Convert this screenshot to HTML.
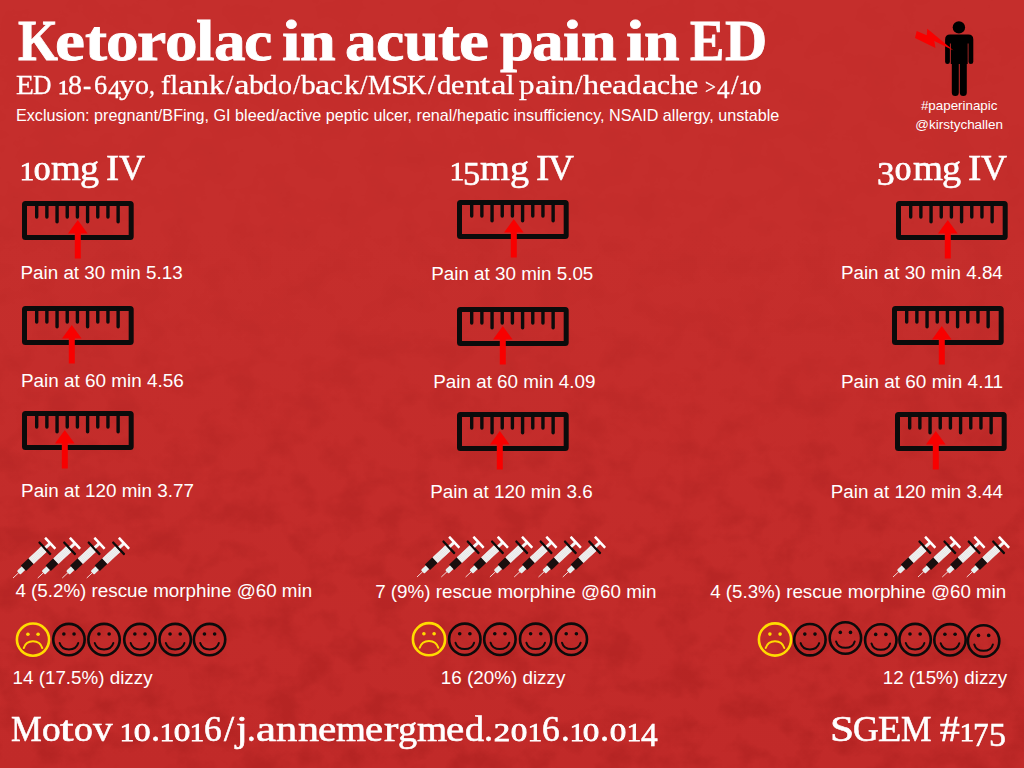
<!DOCTYPE html>
<html lang="en"><head><meta charset="utf-8"><title>Ketorolac in acute pain in ED</title>
<style>
html,body{margin:0;padding:0;}
body{width:1024px;height:768px;overflow:hidden;background:linear-gradient(#c52e2c 0%,#c52e2c 30%,#c12a29 100%);position:relative;font-family:"Liberation Sans",sans-serif;color:#fff;}
.abs{position:absolute;white-space:nowrap;line-height:1;margin:0;}
svg.abs{overflow:visible;display:block;}
.serif{font-family:"Liberation Serif",serif;}
.sans{font-family:"Liberation Sans",sans-serif;}
.o{display:inline-block;font-size:.72em;transform:scaleX(1.2);margin:0 .05em;-webkit-text-stroke:.75px #fff}
.d{font-size:.96em;position:relative;top:.16em}
.g{font-size:.8em}
.w{display:inline-block;transform-origin:0 0}
</style></head><body>
<svg class="abs" style="left:0;top:0" width="1024" height="768" viewBox="0 0 1024 768">
<defs>
<filter id="grunge" x="0" y="0" width="100%" height="100%" color-interpolation-filters="sRGB"><feTurbulence type="fractalNoise" baseFrequency="0.03 0.036" numOctaves="5" seed="11"/><feColorMatrix type="matrix" values="0 0 0 0 0.45  0 0 0 0 0.02  0 0 0 0 0.02  0 0 0 -3 1.7"/></filter>
<linearGradient id="fade" x1="0" y1="0" x2="0" y2="1"><stop offset="0" stop-color="#fff" stop-opacity="0.06"/><stop offset="0.4" stop-color="#fff" stop-opacity="0.3"/><stop offset="0.7" stop-color="#fff" stop-opacity="0.85"/><stop offset="1" stop-color="#fff" stop-opacity="1"/></linearGradient>
<mask id="fm"><rect width="1024" height="768" fill="url(#fade)"/></mask>
</defs>
<rect width="1024" height="768" filter="url(#grunge)" mask="url(#fm)" opacity="0.15"/>
</svg>

<svg width="0" height="0" style="position:absolute"><defs>
<g id="syr">
<line x1="0" y1="0" x2="8" y2="0" stroke="#f3dede" stroke-width="0.9"/>
<path d="M7.6 -1.6 Q7.6 -2.5 9 -2.5 L15 -2.5 L15 2.5 L9 2.5 Q7.6 2.5 7.6 1.6 Z" fill="#e6f0f0"/>
<rect x="14.3" y="-3.8" width="10.5" height="7.6" fill="#190f0f"/>
<rect x="24.7" y="-3.8" width="18" height="7.6" fill="#f2f2f2"/>
<rect x="25.60" y="-3.8" width="0.6" height="7.6" fill="#e2e2e2"/><rect x="27.15" y="-3.8" width="0.6" height="7.6" fill="#e2e2e2"/><rect x="28.70" y="-3.8" width="0.6" height="7.6" fill="#e2e2e2"/><rect x="30.25" y="-3.8" width="0.6" height="7.6" fill="#e2e2e2"/><rect x="31.80" y="-3.8" width="0.6" height="7.6" fill="#e2e2e2"/><rect x="33.35" y="-3.8" width="0.6" height="7.6" fill="#e2e2e2"/><rect x="34.90" y="-3.8" width="0.6" height="7.6" fill="#e2e2e2"/><rect x="36.45" y="-3.8" width="0.6" height="7.6" fill="#e2e2e2"/><rect x="38.00" y="-3.8" width="0.6" height="7.6" fill="#e2e2e2"/><rect x="39.55" y="-3.8" width="0.6" height="7.6" fill="#e2e2e2"/><rect x="41.10" y="-3.8" width="0.6" height="7.6" fill="#e2e2e2"/>
<rect x="42.4" y="-8.8" width="2.3" height="17.6" rx="0.8" fill="#0b0b0b"/>
<rect x="44.5" y="-1.5" width="6" height="3" fill="#f4f4f4"/>
<rect x="49.6" y="-7.6" width="2.6" height="15.2" rx="0.6" fill="#ffffff"/>
</g>
<g id="smile">
<circle cx="0" cy="0" r="15.7" fill="none" stroke="#0b0b0b" stroke-width="2.6"/>
<circle cx="-5.1" cy="-5.6" r="1.8" fill="#0b0b0b"/><circle cx="5.1" cy="-5.6" r="1.8" fill="#0b0b0b"/>
<path d="M-9.3 3.4 Q-7.5 9.8 0 9.8 Q7.5 9.8 9.3 3.4" fill="none" stroke="#0b0b0b" stroke-width="2" stroke-linecap="round"/>
</g>
<g id="sad">
<circle cx="0" cy="0" r="16.1" fill="none" stroke="#ffdc00" stroke-width="2.6"/>
<circle cx="-5.1" cy="-5.4" r="1.8" fill="#ffdc00"/><circle cx="5.1" cy="-5.4" r="1.8" fill="#ffdc00"/>
<path d="M-9.3 8.5 Q-7.3 1.7 0 1.7 Q7.3 1.7 9.3 8.5" fill="none" stroke="#ffdc00" stroke-width="2" stroke-linecap="round"/>
</g>
</defs></svg>
<svg class="abs" style="left:905px;top:10px" width="80" height="90" viewBox="905 10 80 90">
<circle cx="958.9" cy="27.4" r="6.2" fill="#000"/>
<path d="M950.1 34.6 H968.3 Q973.3 34.6 973.3 39.6 V61.7 Q973.3 64.1 970.9 64.1 Q968.5 64.1 968.5 61.7 V43.4 H967.7 V64.1 H966.8 V92.6 Q966.8 96.1 963.3 96.1 Q959.8 96.1 959.8 92.6 V64.1 H958.8 V92.6 Q958.8 96.1 955.3 96.1 Q951.8 96.1 951.8 92.6 V64.1 H950.8 V43.4 H949.9 V61.7 Q949.9 64.1 947.5 64.1 Q945.1 64.1 945.1 61.7 V39.6 Q945.1 34.6 950.1 34.6 Z" fill="#000"/>
<path d="M916.7 31.1 L926.7 35.2 L927.3 28.7 L953.6 50.4 L934.3 41.0 L935.5 48.1 L915.0 38.1 Z" fill="#f80000"/>
</svg>
<div class="abs serif title" style="left:17.56px;top:13px;font-size:56.5px;word-spacing:-.25em;font-weight:bold;-webkit-text-stroke:0.8px #fff;"><span class="w" style="width:37.48px;transform:scaleX(0.9092)">K</span><span class="w" style="width:29.72px;transform:scaleX(1.1926)">e</span><span class="w" style="width:21.38px;transform:scaleX(1.1718)">t</span><span class="w" style="width:31.01px;transform:scaleX(1.1535)">o</span><span class="w" style="width:27.47px;transform:scaleX(1.1688)">r</span><span class="w" style="width:31.25px;transform:scaleX(1.1535)">o</span><span class="w" style="width:17.90px;transform:scaleX(1.1771)">l</span><span class="w" style="width:30.38px;transform:scaleX(1.1188)">a</span><span class="w" style="width:37.82px;transform:scaleX(1.1302)">c</span> <span class="w" style="width:17.92px;transform:scaleX(1.1685)">i</span><span class="w" style="width:45.31px;transform:scaleX(1.1366)">n</span> <span class="w" style="width:30.52px;transform:scaleX(1.1188)">a</span><span class="w" style="width:27.88px;transform:scaleX(1.1277)">c</span><span class="w" style="width:34.03px;transform:scaleX(1.1142)">u</span><span class="w" style="width:21.70px;transform:scaleX(1.1718)">t</span><span class="w" style="width:40.54px;transform:scaleX(1.1926)">e</span> <span class="w" style="width:32.49px;transform:scaleX(1.0718)">p</span><span class="w" style="width:30.60px;transform:scaleX(1.1188)">a</span><span class="w" style="width:18.08px;transform:scaleX(1.1736)">i</span><span class="w" style="width:44.95px;transform:scaleX(1.1340)">n</span> <span class="w" style="width:17.93px;transform:scaleX(1.1736)">i</span><span class="w" style="width:46.14px;transform:scaleX(1.1340)">n</span> <span class="w" style="width:35.16px;transform:scaleX(0.9080)">E</span><span class="w" style="transform:scaleX(1.0338)">D</span></div>
<div class="abs serif sub" style="left:15.78px;top:72px;font-size:26.6px;word-spacing:-.25em;-webkit-text-stroke:0.3px #fff;"><span class="w" style="width:17.70px;transform:scaleX(1.1036)">E</span><span class="w" style="width:24.23px;transform:scaleX(0.9609)">D</span> <span class="w" style="width:10.22px;transform:scaleX(0.9403)"><span class="o">1</span></span><span class="w" style="width:15.39px;transform:scaleX(1.0509)">8</span><span class="w" style="width:10.27px;transform:scaleX(0.9292)">-</span><span class="w" style="width:14.56px;transform:scaleX(0.9915)">6</span><span class="w" style="width:11.38px;transform:scaleX(0.9887)"><span class="d">4</span></span><span class="w" style="width:15.26px;transform:scaleX(1.2006)">y</span><span class="w" style="width:14.52px;transform:scaleX(1.0485)">o</span><span class="w" style="width:12.00px;transform:scaleX(0.8848)">,</span> <span class="w" style="width:16.79px;transform:scaleX(1.0442)">fl</span><span class="w" style="width:14.89px;transform:scaleX(1.2997)">a</span><span class="w" style="width:15.89px;transform:scaleX(1.2181)">n</span><span class="w" style="width:16.84px;transform:scaleX(1.1528)">k</span><span class="w" style="width:8.31px;transform:scaleX(1.0087)">/</span><span class="w" style="width:14.66px;transform:scaleX(1.3162)">a</span><span class="w" style="width:14.60px;transform:scaleX(1.1056)">b</span><span class="w" style="width:14.67px;transform:scaleX(1.0899)">d</span><span class="w" style="width:15.22px;transform:scaleX(1.0459)">o</span><span class="w" style="width:7.62px;transform:scaleX(0.9791)">/</span><span class="w" style="width:14.85px;transform:scaleX(1.1044)">b</span><span class="w" style="width:15.00px;transform:scaleX(1.2961)">a</span><span class="w" style="width:13.16px;transform:scaleX(1.0847)">c</span><span class="w" style="width:16.53px;transform:scaleX(1.1558)">k</span><span class="w" style="width:8.31px;transform:scaleX(1.0195)">/</span><span class="w" style="width:22.21px;transform:scaleX(0.9832)">M</span><span class="w" style="width:16.76px;transform:scaleX(1.2089)">S</span><span class="w" style="width:20.38px;transform:scaleX(1.0117)">K</span><span class="w" style="width:8.76px;transform:scaleX(1.0195)">/</span><span class="w" style="width:14.40px;transform:scaleX(1.0733)">d</span><span class="w" style="width:13.87px;transform:scaleX(1.1378)">e</span><span class="w" style="width:15.63px;transform:scaleX(1.2014)">n</span><span class="w" style="width:10.86px;transform:scaleX(1.3816)">t</span><span class="w" style="width:14.96px;transform:scaleX(1.3162)">a</span><span class="w" style="width:13.28px;transform:scaleX(1.1378)">l</span> <span class="w" style="width:15.18px;transform:scaleX(1.1619)">p</span><span class="w" style="width:15.09px;transform:scaleX(1.3162)">a</span><span class="w" style="width:8.08px;transform:scaleX(1.0815)">i</span><span class="w" style="width:17.18px;transform:scaleX(1.2054)">n</span><span class="w" style="width:8.52px;transform:scaleX(1.0103)">/</span><span class="w" style="width:15.40px;transform:scaleX(1.2099)">h</span><span class="w" style="width:13.10px;transform:scaleX(1.1359)">e</span><span class="w" style="width:15.31px;transform:scaleX(1.2997)">a</span><span class="w" style="width:14.36px;transform:scaleX(1.0733)">d</span><span class="w" style="width:15.05px;transform:scaleX(1.3162)">a</span><span class="w" style="width:13.40px;transform:scaleX(1.1030)">c</span><span class="w" style="width:15.44px;transform:scaleX(1.1959)">h</span><span class="w" style="width:19.55px;transform:scaleX(1.1179)">e</span> <span class="w" style="width:12.24px;transform:scaleX(0.9111)"><span class="g">&gt;</span></span><span class="w" style="width:13.28px;transform:scaleX(0.9861)"><span class="d">4</span></span><span class="w" style="width:8.36px;transform:scaleX(1.0195)">/</span><span class="w" style="width:10.60px;transform:scaleX(0.9403)"><span class="o">1</span></span><span class="w" style="transform:scaleX(1.0552)"><span class="o">0</span></span></div>
<div class="abs sans excl" style="left:15.97px;top:107px;font-size:16.16px;">Exclusion: pregnant/BFing, GI bleed/active peptic ulcer, renal/hepatic insufficiency, NSAID allergy, unstable</div>
<div class="abs sans tag" style="left:920.92px;top:99px;font-size:13.36px;">#paperinapic</div>
<div class="abs sans tag" style="left:915.36px;top:118px;font-size:13.46px;">@kirstychallen</div>
<div class="abs serif dose" style="left:19.96px;top:151px;font-size:35px;word-spacing:-.25em;-webkit-text-stroke:0.6px #fff;"><span class="w" style="width:13.73px;transform:scaleX(0.9511)"><span class="o">1</span></span><span class="w" style="width:17.50px;transform:scaleX(1.1099)"><span class="o">0</span></span><span class="w" style="width:29.30px;transform:scaleX(1.0965)">m</span><span class="w" style="width:25.98px;transform:scaleX(1.0879)">g</span> <span class="w" style="width:12.24px;transform:scaleX(1.1286)">I</span><span class="w" style="transform:scaleX(1.0298)">V</span></div>
<div class="abs serif dose" style="left:449.76px;top:151px;font-size:35px;word-spacing:-.25em;-webkit-text-stroke:0.6px #fff;"><span class="w" style="width:12.93px;transform:scaleX(0.9505)"><span class="o">1</span></span><span class="w" style="width:17.63px;transform:scaleX(1.0204)"><span class="d">5</span></span><span class="w" style="width:29.30px;transform:scaleX(1.0984)">m</span><span class="w" style="width:25.97px;transform:scaleX(1.0880)">g</span> <span class="w" style="width:12.46px;transform:scaleX(1.1468)">I</span><span class="w" style="transform:scaleX(1.0282)">V</span></div>
<div class="abs serif dose" style="left:877.04px;top:151px;font-size:35px;word-spacing:-.25em;-webkit-text-stroke:0.6px #fff;"><span class="w" style="width:18.44px;transform:scaleX(1.0503)"><span class="d">3</span></span><span class="w" style="width:17.28px;transform:scaleX(1.0985)"><span class="o">0</span></span><span class="w" style="width:29.38px;transform:scaleX(1.1015)">m</span><span class="w" style="width:26.04px;transform:scaleX(1.0911)">g</span> <span class="w" style="width:12.50px;transform:scaleX(1.1501)">I</span><span class="w" style="transform:scaleX(1.0311)">V</span></div>
<div class="abs sans lab" style="left:20.50px;top:264px;font-size:18.82px;">Pain at 30 min 5.13</div>
<div class="abs sans lab" style="left:20.97px;top:372px;font-size:18.92px;">Pain at 60 min 4.56</div>
<div class="abs sans lab" style="left:21.07px;top:482px;font-size:18.85px;">Pain at 120 min 3.77</div>
<div class="abs sans lab" style="left:431.23px;top:265px;font-size:18.82px;">Pain at 30 min 5.05</div>
<div class="abs sans lab" style="left:433.26px;top:373px;font-size:18.83px;">Pain at 60 min 4.09</div>
<div class="abs sans lab" style="left:430.13px;top:483px;font-size:18.88px;">Pain at 120 min 3.6</div>
<div class="abs sans lab" style="left:840.98px;top:264px;font-size:18.79px;">Pain at 30 min 4.84</div>
<div class="abs sans lab" style="left:840.95px;top:372px;font-size:18.99px;">Pain at 60 min 4.11</div>
<div class="abs sans lab" style="left:830.75px;top:483px;font-size:18.8px;">Pain at 120 min 3.44</div>
<div class="abs sans lab" style="left:15.39px;top:582px;font-size:18.79px;">4 (5.2%) rescue morphine @60 min</div>
<div class="abs sans lab" style="left:375.18px;top:583px;font-size:18.81px;">7 (9%) rescue morphine @60 min</div>
<div class="abs sans lab" style="left:710.19px;top:583px;font-size:18.74px;">4 (5.3%) rescue morphine @60 min</div>
<div class="abs sans lab" style="left:12.56px;top:669px;font-size:18.81px;">14 (17.5%) dizzy</div>
<div class="abs sans lab" style="left:440.80px;top:669px;font-size:18.84px;">16 (20%) dizzy</div>
<div class="abs sans lab" style="left:882.86px;top:669px;font-size:18.79px;">12 (15%) dizzy</div>
<div class="abs serif foot" style="left:11.00px;top:712px;font-size:35px;word-spacing:-.25em;-webkit-text-stroke:0.6px #fff;"><span class="w" style="width:30.64px;transform:scaleX(0.9885)">M</span><span class="w" style="width:18.15px;transform:scaleX(1.0663)">o</span><span class="w" style="width:14.55px;transform:scaleX(1.3905)">t</span><span class="w" style="width:18.55px;transform:scaleX(1.0784)">o</span><span class="w" style="width:27.11px;transform:scaleX(1.1175)">v</span> <span class="w" style="width:13.74px;transform:scaleX(0.9524)"><span class="o">1</span></span><span class="w" style="width:17.09px;transform:scaleX(1.1114)"><span class="o">0</span></span><span class="w" style="width:9.22px;transform:scaleX(1.0444)">.</span><span class="w" style="width:13.71px;transform:scaleX(0.9484)"><span class="o">1</span></span><span class="w" style="width:16.77px;transform:scaleX(1.0976)"><span class="o">0</span></span><span class="w" style="width:13.98px;transform:scaleX(0.9497)"><span class="o">1</span></span><span class="w" style="width:19.85px;transform:scaleX(1.0124)">6</span><span class="w" style="width:11.23px;transform:scaleX(1.0362)">/</span><span class="w" style="width:11.12px;transform:scaleX(1.2136)">j</span><span class="w" style="width:9.32px;transform:scaleX(0.9930)">.</span><span class="w" style="width:19.97px;transform:scaleX(1.2929)">a</span><span class="w" style="width:21.64px;transform:scaleX(1.2146)">n</span><span class="w" style="width:20.03px;transform:scaleX(1.2016)">n</span><span class="w" style="width:18.83px;transform:scaleX(1.1755)">e</span><span class="w" style="width:29.06px;transform:scaleX(1.1006)">m</span><span class="w" style="width:18.21px;transform:scaleX(1.1601)">e</span><span class="w" style="width:14.41px;transform:scaleX(1.2378)">r</span><span class="w" style="width:19.35px;transform:scaleX(1.0902)">g</span><span class="w" style="width:29.04px;transform:scaleX(1.1072)">m</span><span class="w" style="width:18.70px;transform:scaleX(1.1732)">e</span><span class="w" style="width:19.14px;transform:scaleX(1.0876)">d</span><span class="w" style="width:10.18px;transform:scaleX(1.0410)">.</span><span class="w" style="width:16.57px;transform:scaleX(1.0833)"><span class="o">2</span></span><span class="w" style="width:16.77px;transform:scaleX(1.0976)"><span class="o">0</span></span><span class="w" style="width:13.98px;transform:scaleX(0.9497)"><span class="o">1</span></span><span class="w" style="width:18.96px;transform:scaleX(1.0124)">6</span><span class="w" style="width:8.88px;transform:scaleX(0.9930)">.</span><span class="w" style="width:13.94px;transform:scaleX(0.9497)"><span class="o">1</span></span><span class="w" style="width:16.88px;transform:scaleX(1.0944)"><span class="o">0</span></span><span class="w" style="width:9.80px;transform:scaleX(1.0410)">.</span><span class="w" style="width:16.73px;transform:scaleX(1.0956)"><span class="o">0</span></span><span class="w" style="width:14.27px;transform:scaleX(0.9524)"><span class="o">1</span></span><span class="w" style="transform:scaleX(0.9940)"><span class="d">4</span></span></div>
<div class="abs serif foot" style="left:830.38px;top:712px;font-size:35px;word-spacing:-.25em;-webkit-text-stroke:0.6px #fff;"><span class="w" style="width:22.91px;transform:scaleX(1.2395)">S</span><span class="w" style="width:24.69px;transform:scaleX(1.0160)">G</span><span class="w" style="width:23.07px;transform:scaleX(1.0896)">E</span><span class="w" style="width:38.65px;transform:scaleX(0.9786)">M</span> <span class="w" style="width:20.25px;transform:scaleX(1.1274)">#</span><span class="w" style="width:12.87px;transform:scaleX(0.9428)"><span class="o">1</span></span><span class="w" style="width:16.17px;transform:scaleX(0.9295)"><span class="d">7</span></span><span class="w" style="transform:scaleX(1.0118)"><span class="d">5</span></span></div>
<svg class="abs" style="left:21.6px;top:201.0px" width="111.7" height="39.0" viewBox="0 0 111.7 39.0"><rect x="2.5" y="2.5" width="106.7" height="34.0" rx="1" fill="none" stroke="#0b0b0b" stroke-width="5" stroke-linejoin="round"/><g stroke="#0b0b0b" stroke-width="3.4" stroke-linecap="round"><line x1="14.70" y1="4" x2="14.70" y2="16.0"/><line x1="24.88" y1="4" x2="24.88" y2="16.0"/><line x1="35.06" y1="4" x2="35.06" y2="20.7"/><line x1="45.24" y1="4" x2="45.24" y2="16.0"/><line x1="55.42" y1="4" x2="55.42" y2="16.0"/><line x1="65.60" y1="4" x2="65.60" y2="20.7"/><line x1="75.78" y1="4" x2="75.78" y2="16.0"/><line x1="85.96" y1="4" x2="85.96" y2="16.0"/><line x1="96.14" y1="4" x2="96.14" y2="20.7"/></g></svg><svg class="abs" style="left:67.8px;top:220px" width="19.6" height="38.6" viewBox="0 0 19.6 38.6"><path d="M9.8 0 L19.6 13.6 L12.8 13.6 L12.8 38.6 L6.800000000000001 38.6 L6.800000000000001 13.6 L0 13.6 Z" fill="#f80000"/></svg>
<svg class="abs" style="left:22.25px;top:306.0px" width="111.7" height="39.0" viewBox="0 0 111.7 39.0"><rect x="2.5" y="2.5" width="106.7" height="34.0" rx="1" fill="none" stroke="#0b0b0b" stroke-width="5" stroke-linejoin="round"/><g stroke="#0b0b0b" stroke-width="3.4" stroke-linecap="round"><line x1="14.70" y1="4" x2="14.70" y2="16.0"/><line x1="24.88" y1="4" x2="24.88" y2="16.0"/><line x1="35.06" y1="4" x2="35.06" y2="20.7"/><line x1="45.24" y1="4" x2="45.24" y2="16.0"/><line x1="55.42" y1="4" x2="55.42" y2="16.0"/><line x1="65.60" y1="4" x2="65.60" y2="20.7"/><line x1="75.78" y1="4" x2="75.78" y2="16.0"/><line x1="85.96" y1="4" x2="85.96" y2="16.0"/><line x1="96.14" y1="4" x2="96.14" y2="20.7"/></g></svg><svg class="abs" style="left:62.10000000000001px;top:325px" width="19.6" height="38.6" viewBox="0 0 19.6 38.6"><path d="M9.8 0 L19.6 13.6 L12.8 13.6 L12.8 38.6 L6.800000000000001 38.6 L6.800000000000001 13.6 L0 13.6 Z" fill="#f80000"/></svg>
<svg class="abs" style="left:22.25px;top:411.0px" width="111.7" height="39.0" viewBox="0 0 111.7 39.0"><rect x="2.5" y="2.5" width="106.7" height="34.0" rx="1" fill="none" stroke="#0b0b0b" stroke-width="5" stroke-linejoin="round"/><g stroke="#0b0b0b" stroke-width="3.4" stroke-linecap="round"><line x1="14.70" y1="4" x2="14.70" y2="16.0"/><line x1="24.88" y1="4" x2="24.88" y2="16.0"/><line x1="35.06" y1="4" x2="35.06" y2="20.7"/><line x1="45.24" y1="4" x2="45.24" y2="16.0"/><line x1="55.42" y1="4" x2="55.42" y2="16.0"/><line x1="65.60" y1="4" x2="65.60" y2="20.7"/><line x1="75.78" y1="4" x2="75.78" y2="16.0"/><line x1="85.96" y1="4" x2="85.96" y2="16.0"/><line x1="96.14" y1="4" x2="96.14" y2="20.7"/></g></svg><svg class="abs" style="left:54.95px;top:430px" width="19.6" height="38.6" viewBox="0 0 19.6 38.6"><path d="M9.8 0 L19.6 13.6 L12.8 13.6 L12.8 38.6 L6.800000000000001 38.6 L6.800000000000001 13.6 L0 13.6 Z" fill="#f80000"/></svg>
<svg class="abs" style="left:457.25px;top:200.0px" width="111.7" height="39.0" viewBox="0 0 111.7 39.0"><rect x="2.5" y="2.5" width="106.7" height="34.0" rx="1" fill="none" stroke="#0b0b0b" stroke-width="5" stroke-linejoin="round"/><g stroke="#0b0b0b" stroke-width="3.4" stroke-linecap="round"><line x1="14.70" y1="4" x2="14.70" y2="16.0"/><line x1="24.88" y1="4" x2="24.88" y2="16.0"/><line x1="35.06" y1="4" x2="35.06" y2="20.7"/><line x1="45.24" y1="4" x2="45.24" y2="16.0"/><line x1="55.42" y1="4" x2="55.42" y2="16.0"/><line x1="65.60" y1="4" x2="65.60" y2="20.7"/><line x1="75.78" y1="4" x2="75.78" y2="16.0"/><line x1="85.96" y1="4" x2="85.96" y2="16.0"/><line x1="96.14" y1="4" x2="96.14" y2="20.7"/></g></svg><svg class="abs" style="left:503.8px;top:219px" width="19.6" height="38.6" viewBox="0 0 19.6 38.6"><path d="M9.8 0 L19.6 13.6 L12.8 13.6 L12.8 38.6 L6.800000000000001 38.6 L6.800000000000001 13.6 L0 13.6 Z" fill="#f80000"/></svg>
<svg class="abs" style="left:457.25px;top:307.1px" width="111.7" height="39.0" viewBox="0 0 111.7 39.0"><rect x="2.5" y="2.5" width="106.7" height="34.0" rx="1" fill="none" stroke="#0b0b0b" stroke-width="5" stroke-linejoin="round"/><g stroke="#0b0b0b" stroke-width="3.4" stroke-linecap="round"><line x1="14.70" y1="4" x2="14.70" y2="16.0"/><line x1="24.88" y1="4" x2="24.88" y2="16.0"/><line x1="35.06" y1="4" x2="35.06" y2="20.7"/><line x1="45.24" y1="4" x2="45.24" y2="16.0"/><line x1="55.42" y1="4" x2="55.42" y2="16.0"/><line x1="65.60" y1="4" x2="65.60" y2="20.7"/><line x1="75.78" y1="4" x2="75.78" y2="16.0"/><line x1="85.96" y1="4" x2="85.96" y2="16.0"/><line x1="96.14" y1="4" x2="96.14" y2="20.7"/></g></svg><svg class="abs" style="left:492.8px;top:326px" width="19.6" height="38.6" viewBox="0 0 19.6 38.6"><path d="M9.8 0 L19.6 13.6 L12.8 13.6 L12.8 38.6 L6.800000000000001 38.6 L6.800000000000001 13.6 L0 13.6 Z" fill="#f80000"/></svg>
<svg class="abs" style="left:457.25px;top:412.1px" width="111.7" height="39.0" viewBox="0 0 111.7 39.0"><rect x="2.5" y="2.5" width="106.7" height="34.0" rx="1" fill="none" stroke="#0b0b0b" stroke-width="5" stroke-linejoin="round"/><g stroke="#0b0b0b" stroke-width="3.4" stroke-linecap="round"><line x1="14.70" y1="4" x2="14.70" y2="16.0"/><line x1="24.88" y1="4" x2="24.88" y2="16.0"/><line x1="35.06" y1="4" x2="35.06" y2="20.7"/><line x1="45.24" y1="4" x2="45.24" y2="16.0"/><line x1="55.42" y1="4" x2="55.42" y2="16.0"/><line x1="65.60" y1="4" x2="65.60" y2="20.7"/><line x1="75.78" y1="4" x2="75.78" y2="16.0"/><line x1="85.96" y1="4" x2="85.96" y2="16.0"/><line x1="96.14" y1="4" x2="96.14" y2="20.7"/></g></svg><svg class="abs" style="left:489.95px;top:431px" width="19.6" height="38.6" viewBox="0 0 19.6 38.6"><path d="M9.8 0 L19.6 13.6 L12.8 13.6 L12.8 38.6 L6.800000000000001 38.6 L6.800000000000001 13.6 L0 13.6 Z" fill="#f80000"/></svg>
<svg class="abs" style="left:896.25px;top:201.0px" width="111.7" height="39.0" viewBox="0 0 111.7 39.0"><rect x="2.5" y="2.5" width="106.7" height="34.0" rx="1" fill="none" stroke="#0b0b0b" stroke-width="5" stroke-linejoin="round"/><g stroke="#0b0b0b" stroke-width="3.4" stroke-linecap="round"><line x1="14.70" y1="4" x2="14.70" y2="16.0"/><line x1="24.88" y1="4" x2="24.88" y2="16.0"/><line x1="35.06" y1="4" x2="35.06" y2="20.7"/><line x1="45.24" y1="4" x2="45.24" y2="16.0"/><line x1="55.42" y1="4" x2="55.42" y2="16.0"/><line x1="65.60" y1="4" x2="65.60" y2="20.7"/><line x1="75.78" y1="4" x2="75.78" y2="16.0"/><line x1="85.96" y1="4" x2="85.96" y2="16.0"/><line x1="96.14" y1="4" x2="96.14" y2="20.7"/></g></svg><svg class="abs" style="left:937.95px;top:220px" width="19.6" height="38.6" viewBox="0 0 19.6 38.6"><path d="M9.8 0 L19.6 13.6 L12.8 13.6 L12.8 38.6 L6.800000000000001 38.6 L6.800000000000001 13.6 L0 13.6 Z" fill="#f80000"/></svg>
<svg class="abs" style="left:892.4px;top:306.1px" width="111.7" height="39.0" viewBox="0 0 111.7 39.0"><rect x="2.5" y="2.5" width="106.7" height="34.0" rx="1" fill="none" stroke="#0b0b0b" stroke-width="5" stroke-linejoin="round"/><g stroke="#0b0b0b" stroke-width="3.4" stroke-linecap="round"><line x1="14.70" y1="4" x2="14.70" y2="16.0"/><line x1="24.88" y1="4" x2="24.88" y2="16.0"/><line x1="35.06" y1="4" x2="35.06" y2="20.7"/><line x1="45.24" y1="4" x2="45.24" y2="16.0"/><line x1="55.42" y1="4" x2="55.42" y2="16.0"/><line x1="65.60" y1="4" x2="65.60" y2="20.7"/><line x1="75.78" y1="4" x2="75.78" y2="16.0"/><line x1="85.96" y1="4" x2="85.96" y2="16.0"/><line x1="96.14" y1="4" x2="96.14" y2="20.7"/></g></svg><svg class="abs" style="left:931.95px;top:326.1px" width="19.6" height="38.6" viewBox="0 0 19.6 38.6"><path d="M9.8 0 L19.6 13.6 L12.8 13.6 L12.8 38.6 L6.800000000000001 38.6 L6.800000000000001 13.6 L0 13.6 Z" fill="#f80000"/></svg>
<svg class="abs" style="left:895.25px;top:412.1px" width="111.7" height="39.0" viewBox="0 0 111.7 39.0"><rect x="2.5" y="2.5" width="106.7" height="34.0" rx="1" fill="none" stroke="#0b0b0b" stroke-width="5" stroke-linejoin="round"/><g stroke="#0b0b0b" stroke-width="3.4" stroke-linecap="round"><line x1="14.70" y1="4" x2="14.70" y2="16.0"/><line x1="24.88" y1="4" x2="24.88" y2="16.0"/><line x1="35.06" y1="4" x2="35.06" y2="20.7"/><line x1="45.24" y1="4" x2="45.24" y2="16.0"/><line x1="55.42" y1="4" x2="55.42" y2="16.0"/><line x1="65.60" y1="4" x2="65.60" y2="20.7"/><line x1="75.78" y1="4" x2="75.78" y2="16.0"/><line x1="85.96" y1="4" x2="85.96" y2="16.0"/><line x1="96.14" y1="4" x2="96.14" y2="20.7"/></g></svg><svg class="abs" style="left:925.95px;top:431px" width="19.6" height="38.6" viewBox="0 0 19.6 38.6"><path d="M9.8 0 L19.6 13.6 L12.8 13.6 L12.8 38.6 L6.800000000000001 38.6 L6.800000000000001 13.6 L0 13.6 Z" fill="#f80000"/></svg>
<svg class="abs" style="left:9.25px;top:531.5px" width="125.75" height="49.0" viewBox="0 0 125.75 49.0"><use href="#syr" transform="translate(4.00 46.00) rotate(-43)"/><use href="#syr" transform="translate(28.75 46.00) rotate(-43)"/><use href="#syr" transform="translate(53.25 46.00) rotate(-43)"/><use href="#syr" transform="translate(77.75 46.00) rotate(-43)"/></svg>
<svg class="abs" style="left:412.5px;top:531px" width="197.80" height="49" viewBox="0 0 197.80 49"><use href="#syr" transform="translate(4.00 46.00) rotate(-43)"/><use href="#syr" transform="translate(28.30 46.00) rotate(-43)"/><use href="#syr" transform="translate(52.60 46.00) rotate(-43)"/><use href="#syr" transform="translate(76.90 46.00) rotate(-43)"/><use href="#syr" transform="translate(101.20 46.00) rotate(-43)"/><use href="#syr" transform="translate(125.50 46.00) rotate(-43)"/><use href="#syr" transform="translate(149.80 46.00) rotate(-43)"/></svg>
<svg class="abs" style="left:888.5px;top:531px" width="125.75" height="49" viewBox="0 0 125.75 49"><use href="#syr" transform="translate(4.00 46.00) rotate(-43)"/><use href="#syr" transform="translate(29.00 46.00) rotate(-43)"/><use href="#syr" transform="translate(53.25 46.00) rotate(-43)"/><use href="#syr" transform="translate(77.75 46.00) rotate(-43)"/></svg>
<svg class="abs" style="left:12.85px;top:615px" width="216.55" height="50" viewBox="0 0 216.55 50"><use href="#sad" transform="translate(20.00 24.60)"/><use href="#smile" transform="translate(55.95 24.60)"/><use href="#smile" transform="translate(91.05 24.60)"/><use href="#smile" transform="translate(126.95 24.60)"/><use href="#smile" transform="translate(162.15 24.60)"/><use href="#smile" transform="translate(196.55 24.60)"/></svg>
<svg class="abs" style="left:408.6px;top:615px" width="182.30" height="50" viewBox="0 0 182.30 50"><use href="#sad" transform="translate(20.00 24.20)"/><use href="#smile" transform="translate(55.80 24.30)"/><use href="#smile" transform="translate(90.90 24.30)"/><use href="#smile" transform="translate(126.70 24.30)"/><use href="#smile" transform="translate(162.30 24.30)"/></svg>
<svg class="abs" style="left:754.5px;top:615px" width="248.60" height="50" viewBox="0 0 248.60 50"><use href="#sad" transform="translate(20.00 24.50)"/><use href="#smile" transform="translate(54.90 24.70)"/><use href="#smile" transform="translate(90.40 23.00)"/><use href="#smile" transform="translate(125.80 25.00)"/><use href="#smile" transform="translate(160.10 24.60)"/><use href="#smile" transform="translate(195.00 24.80)"/><use href="#smile" transform="translate(228.60 26.00)"/></svg>
</body></html>
